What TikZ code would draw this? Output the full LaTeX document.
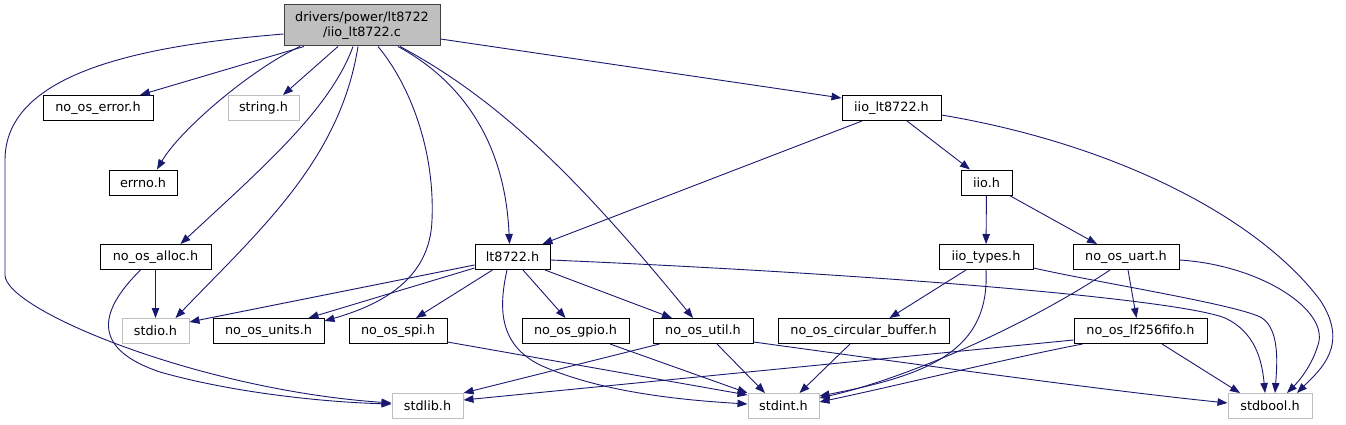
\documentclass[tikz,border=0pt]{standalone}
\usepackage{fontspec}
\setmainfont{DejaVu Sans}
\usetikzlibrary{calc,arrows.meta}
\definecolor{edgecol}{HTML}{191970}
\definecolor{grey75}{HTML}{BFBFBF}
\definecolor{grey40}{HTML}{404040}
\tikzset{
  hbox/.style={draw=black, line width=1pt, fill=white, minimum height=25pt, inner sep=0pt,
    font=\fontsize{12.8pt}{15.5pt}\selectfont},
  sbox/.style={hbox, draw=grey75},
  rootbox/.style={hbox, draw=grey40, fill=grey75, align=center, minimum height=41pt},
  edge/.style={draw=edgecol, line width=0.9pt, -{Triangle[length=10pt,width=7.5pt]}},
}
\begin{document}
\begin{tikzpicture}[x=1pt,y=-1pt]
\useasboundingbox (0,0) rectangle (1346,425);
% nodes
\node[rootbox, minimum width=156pt] (root) at (362,25.5) {drivers/power/lt8722\\/iio\_lt8722.c};
\node[hbox, minimum width=110pt] (err) at (98,108) {no\_os\_error.h};
\node[sbox, minimum width=71pt] (string) at (263.5,108) {string.h};
\node[hbox, minimum width=68pt] (errno) at (143,182.5) {errno.h};
\node[hbox, minimum width=99pt] (iiolt) at (891.5,108) {iio\_lt8722.h};
\node[hbox, minimum width=51pt] (iio) at (986.5,182.5) {iio.h};
\node[hbox, minimum width=111pt] (alloc) at (155.5,257) {no\_os\_alloc.h};
\node[hbox, minimum width=75pt] (lt) at (512.5,257) {lt8722.h};
\node[hbox, minimum width=94pt] (types) at (986,257) {iio\_types.h};
\node[hbox, minimum width=106pt] (uart) at (1126,257) {no\_os\_uart.h};
\node[sbox, minimum width=67pt] (stdio) at (155.5,331) {stdio.h};
\node[hbox, minimum width=111pt] (units) at (268.5,331) {no\_os\_units.h};
\node[hbox, minimum width=98pt] (spi) at (398,331) {no\_os\_spi.h};
\node[hbox, minimum width=107pt] (gpio) at (575.5,331) {no\_os\_gpio.h};
\node[hbox, minimum width=100pt] (util) at (703,331) {no\_os\_util.h};
\node[hbox, minimum width=171pt] (circ) at (863.5,331) {no\_os\_circular\_buffer.h};
\node[hbox, minimum width=133pt] (lf) at (1140.5,331) {no\_os\_lf256fifo.h};
\node[sbox, minimum width=71pt] (stdlib) at (427.5,406) {stdlib.h};
\node[sbox, minimum width=71pt] (stdint) at (783.5,406) {stdint.h};
\node[sbox, minimum width=84pt] (stdbool) at (1270,406) {stdbool.h};
% root edges
\draw[edge] ($(root.south)+(-58,0)$) -- ($(err.north)+(42,0)$);
\draw[edge] ($(root.south)+(-62,0)$) .. controls (250,70) and (180,130) .. ($(errno.north)+(14,0)$);
\draw[edge] ($(root.south)+(-24,0)$) -- ($(string.north)+(19.5,0)$);
\draw[edge] ($(root.west)+(0,8.5)$) .. controls (150,45) and (5,70) .. (5,160) -- (5,275) .. controls (5,310) and (200,390) .. ($(stdlib.west)+(0,-3)$);
\draw[edge] ($(root.south)+(-4,0)$) .. controls (340,160) and (260,230) .. ($(stdio.north)+(20,0)$);
\draw[edge] ($(root.south)+(-9,0)$) .. controls (330,110) and (260,170) .. ($(alloc.north)+(25,0)$);
\draw[edge] ($(root.south)+(16,0)$) .. controls (410,85) and (435,150) .. (432,220) .. controls (430,280) and (380,305) .. ($(units.north east)+(0,3)$);
\draw[edge] ($(root.south)+(36,0)$) .. controls (460,80) and (505,140) .. ($(lt.north)+(-3,0)$);
\draw[edge] ($(root.south)+(38,0)$) .. controls (500,100) and (580,180) .. ($(util.north)+(-10,0)$);
\draw[edge] ($(root.east)+(0,13.5)$) -- ($(iiolt.west)+(0,-10)$);
% iio_lt8722.h
\draw[edge] ($(iiolt.south)+(-29.5,0)$) -- ($(lt.north)+(30,0)$);
\draw[edge] ($(iiolt.south)+(15.5,0)$) -- ($(iio.north)+(-16.5,0)$);
\draw[edge] ($(iiolt.east)+(0,7)$) .. controls (1120,145) and (1260,220) .. (1320,300) .. controls (1350,345) and (1320,370) .. ($(stdbool.north)+(27,0)$);
% iio.h
\draw[edge] (iio) -- (types);
\draw[edge] ($(iio.south east)+(-3,0)$) -- ($(uart.north)+(-29,0)$);
% iio_types.h
\draw[edge] ($(types.south)+(-20,0)$) -- ($(circ.north)+(26,0)$);
\draw[edge] (types.south) .. controls (990,350) and (930,375) .. ($(stdint.east)+(0,-10)$);
\draw[edge] ($(types.east)+(0,11)$) .. controls (1100,283) and (1240,305) .. (1262,318) .. controls (1280,330) and (1277,365) .. ($(stdbool.north)+(5,0)$);
% no_os_uart.h
\draw[edge] ($(uart.south)+(-16,0)$) .. controls (1020,330) and (900,380) .. ($(stdint.east)+(0,-8)$);
\draw[edge] ($(uart.south)+(2,0)$) -- ($(lf.north)+(-4,0)$);
\draw[edge] ($(uart.east)+(0,3)$) .. controls (1260,265) and (1330,310) .. (1318,345) .. controls (1312,365) and (1300,380) .. ($(stdbool.north)+(17,0)$);
% no_os_lf256fifo.h
\draw[edge] ($(lf.west)+(0,9)$) -- ($(stdlib.east)+(0,-6)$);
\draw[edge] ($(lf.south west)+(9,0)$) .. controls (1000,360) and (900,385) .. ($(stdint.east)+(0,-4)$);
\draw[edge] ($(lf.south)+(21.5,0)$) -- ($(stdbool.north)+(-30,0)$);
% no_os_util.h
\draw[edge] ($(util.south west)+(7,0)$) -- (stdlib.north east);
\draw[edge] ($(util.south)+(14,0)$) -- ($(stdint.north)+(-18.5,0)$);
\draw[edge] ($(util.east)+(0,11)$) .. controls (900,362) and (1100,390) .. ($(stdbool.west)+(0,-3)$);
% others
\draw[edge] ($(circ.south)+(-13.5,0)$) -- ($(stdint.north)+(16,0)$);
\draw[edge] ($(spi.east)+(0,11)$) -- ($(stdint.west)+(0,-11)$);
\draw[edge] ($(gpio.south)+(34.5,0)$) -- ($(stdint.west)+(0,-13)$);
% lt8722.h
\draw[edge] ($(lt.west)+(0,8)$) -- ($(stdio.east)+(0,-9)$);
\draw[edge] ($(lt.west)+(0,11)$) -- ($(units.north)+(40,0)$);
\draw[edge] ($(lt.south west)+(18,0)$) -- ($(spi.north)+(18,0)$);
\draw[edge] ($(lt.south)+(10.5,0)$) -- ($(gpio.north)+(-10,0)$);
\draw[edge] ($(lt.south)+(32.5,0)$) -- ($(util.north)+(-31,0)$);
\draw[edge] ($(lt.south)+(-5.5,0)$) .. controls (498,310) and (500,345) .. (540,365) .. controls (600,392) and (680,400) .. ($(stdint.west)+(0,-2)$);
\draw[edge] ($(lt.east)+(0,3)$) .. controls (900,275) and (1180,300) .. (1225,318) .. controls (1255,332) and (1262,360) .. ($(stdbool.north)+(-5,0)$);
% no_os_alloc.h
\draw[edge] (alloc) -- (stdio);
\draw[edge] ($(alloc.south)+(-15,0)$) .. controls (95,315) and (95,350) .. (160,372) .. controls (230,392) and (320,402) .. ($(stdlib.west)+(0,-2)$);
\end{tikzpicture}
\end{document}
